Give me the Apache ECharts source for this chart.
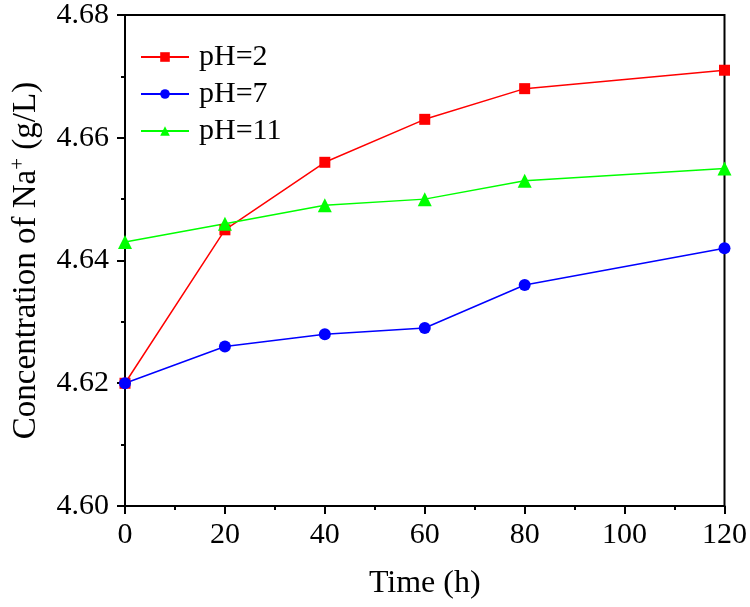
<!DOCTYPE html>
<html><head><meta charset="utf-8">
<script src="https://cdn.jsdelivr.net/npm/echarts@6/dist/echarts.min.js"></script>
<style>html,body{margin:0;padding:0;background:#fff}#c{width:750px;height:607px}</style>
</head><body><div id="c"></div>
<script>
var times = [0, 20, 40, 60, 80, 120];
var seriesNames = ['pH=2', 'pH=7', 'pH=11'];
var ph2 = [4.620, 4.645, 4.656, 4.663, 4.668, 4.671];
var ph7 = [4.620, 4.626, 4.628, 4.629, 4.636, 4.642];
var ph11 = [4.643, 4.646, 4.649, 4.650, 4.653, 4.655];
var xTicks = [0, 20, 40, 60, 80, 100, 120];
var yTicks = [4.60, 4.62, 4.64, 4.66, 4.68];

function pairs(v){ return times.map(function(t,i){ return [t, v[i]]; }); }
var font = "'Liberation Serif', 'Times New Roman', Times, serif";
var chart = echarts.init(document.getElementById('c'));
chart.setOption({
  animation: false,
  backgroundColor: '#fff',
  grid: { left: 114, right: 23, top: 13, bottom: 101, show: true, borderColor: '#000', borderWidth: 2, backgroundColor: 'transparent' },
  legend: {
    orient: 'vertical', left: 135, top: 37, itemWidth: 48, itemHeight: 12, itemGap: 7,
    textStyle: { fontFamily: font, fontSize: 30, color: '#000', padding: [0,0,0,5] },
    data: seriesNames
  },
  xAxis: {
    type: 'value', min: xTicks[0], max: xTicks[xTicks.length-1], interval: 20,
    name: 'Time (h)', nameLocation: 'middle', nameGap: 62,
    nameTextStyle: { fontFamily: font, fontSize: 32, color: '#000' },
    axisLine: { lineStyle: { color: '#000', width: 2 } },
    axisTick: { inside: false, length: 8, lineStyle: { width: 2 } },
    minorTick: { show: true, splitNumber: 2, length: 4, lineStyle: { color: '#000', width: 2 } },
    splitLine: { show: false },
    axisLabel: { fontFamily: font, fontSize: 30, color: '#000', margin: 14 }
  },
  yAxis: {
    type: 'value', min: yTicks[0], max: yTicks[yTicks.length-1], interval: 0.02,
    name: 'Concentration of Na{sup|+} (g/L)', nameLocation: 'middle', nameGap: 80, nameRotate: 90,
    nameTextStyle: { fontFamily: font, fontSize: 33, color: '#000',
      rich: { sup: { fontFamily: font, fontSize: 21, verticalAlign: 'top', padding: [0,0,16,0], color: '#000' } } },
    axisLine: { lineStyle: { color: '#000', width: 2 } },
    axisTick: { inside: false, length: 8, lineStyle: { width: 2 } },
    minorTick: { show: true, splitNumber: 2, length: 4, lineStyle: { color: '#000', width: 2 } },
    splitLine: { show: false },
    axisLabel: { fontFamily: font, fontSize: 30, color: '#000', margin: 16, formatter: function(v){ return v.toFixed(2); } }
  },
  series: [
    { name: seriesNames[0], type: 'line', data: pairs(ph2), symbol: 'rect', symbolSize: 11,
      lineStyle: { color: '#ff0000', width: 1.5 }, itemStyle: { color: '#ff0000' } },
    { name: seriesNames[1], type: 'line', data: pairs(ph7), symbol: 'circle', symbolSize: 12,
      lineStyle: { color: '#0000ff', width: 1.5 }, itemStyle: { color: '#0000ff' } },
    { name: seriesNames[2], type: 'line', data: pairs(ph11), symbol: 'triangle', symbolSize: 14,
      lineStyle: { color: '#00ff00', width: 1.5 }, itemStyle: { color: '#00ff00' } }
  ]
});
</script></body></html>
